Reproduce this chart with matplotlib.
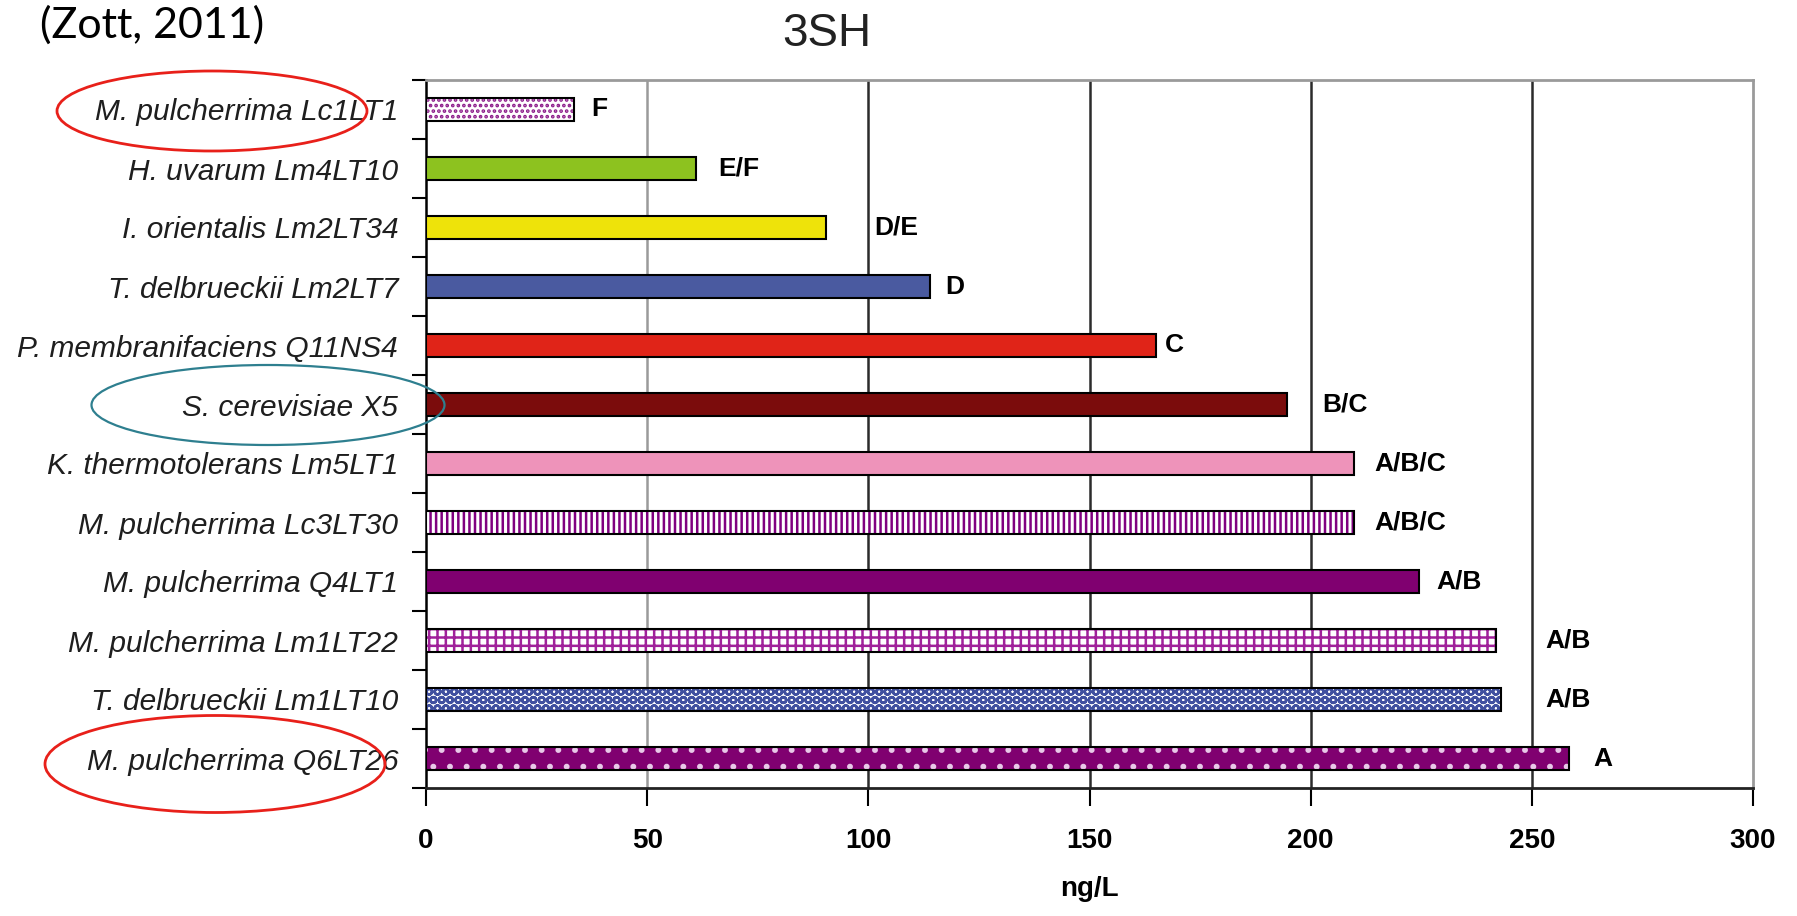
import matplotlib
matplotlib.use("Agg")
import matplotlib.pyplot as plt
from matplotlib.patches import Ellipse
import numpy as np

plt.rcParams['hatch.linewidth'] = 1.8

# ---- data (top to bottom) ----
strains = ["M. pulcherrima Lc1LT1", "H. uvarum Lm4LT10", "I. orientalis Lm2LT34",
           "T. delbrueckii Lm2LT7", "P. membranifaciens Q11NS4", "S. cerevisiae X5",
           "K. thermotolerans Lm5LT1", "M. pulcherrima Lc3LT30", "M. pulcherrima Q4LT1",
           "M. pulcherrima Lm1LT22", "T. delbrueckii Lm1LT10", "M. pulcherrima Q6LT26"]
values = [33.4, 61.1, 90.4, 114.0, 165.0, 194.6, 209.8, 209.8, 224.4, 242.0, 243.0, 258.5]
groups = ["F", "E/F", "D/E", "D", "C", "B/C", "A/B/C", "A/B/C", "A/B", "A/B", "A/B", "A"]
xticks = [0, 50, 100, 150, 200, 250, 300]

# styles
faces = ["white", "#8DC21F", "#EEE30A", "#4A5AA0", "#E02418", "#7B0C0C",
         "#EE93BA", "white", "#800070", "white", "white", "#800070"]
hatches = ["...", None, None, None, None, None, None, "|||", None, "++", "OO", "."]
hatch_cols = ["#8B1A89", None, None, None, None, None, None, "#800080", None, "#A0209A", "#4050A0", "#E8C8E8"]
label_pad = [4, 5, 11, 3.5, 2, 8, 4.5, 4.5, 4, 11, 10, 5.5]

fig = plt.figure(figsize=(17.97, 9.16), dpi=100)
ax = fig.add_axes([426/1797, 1-788/916, (1753-426)/1797, (788-80)/916])

y = np.arange(len(strains))
h = 0.40
for i in range(len(strains)):
    if hatches[i] is None:
        ax.barh(y[i], values[i], height=h, color=faces[i], edgecolor="black", linewidth=1.5, zorder=3)
    else:
        ax.barh(y[i], values[i], height=h, color=faces[i], hatch=hatches[i],
                edgecolor=hatch_cols[i], linewidth=0, zorder=3)
        ax.barh(y[i], values[i], height=h, fill=False, edgecolor="black", linewidth=1.5, zorder=4)
    ax.text(values[i] + label_pad[i], y[i], groups[i], fontsize=19, fontweight="bold",
            va="center", ha="left", family="Liberation Sans", color="black")

ax.set_ylim(len(strains) - 0.5, -0.5)
ax.set_xlim(0, 300)

# grid lines
for xv in xticks[1:-1]:
    col = "#9a9a9a" if xv == 50 else "#2b2b2b"
    ax.axvline(xv, color=col, linewidth=1.8, zorder=1)

ax.set_xticks(xticks)
ax.set_xticklabels([str(v) for v in xticks], fontsize=20, fontweight="bold", family="Liberation Sans")
ax.tick_params(axis="x", length=13, width=1.5, pad=16, color="black")

ax.set_yticks(y)
ax.set_yticklabels(strains, fontsize=21.5, fontstyle="italic", family="Liberation Sans", color="#1e1e1e")
ax.tick_params(axis="y", which="major", length=0, pad=20)
ax.set_yticks(np.arange(-0.5, len(strains), 1.0), minor=True)
ax.tick_params(axis="y", which="minor", length=10, width=1.5, color="black")

ax.spines["left"].set_color("black")
ax.spines["left"].set_linewidth(1.8)
ax.spines["bottom"].set_color("#222222")
ax.spines["bottom"].set_linewidth(2.0)
ax.spines["top"].set_color("#9a9a9a")
ax.spines["top"].set_linewidth(2.0)
ax.spines["right"].set_color("#9a9a9a")
ax.spines["right"].set_linewidth(2.0)

ax.set_xlabel("ng/L", fontsize=20, fontweight="bold", family="Liberation Sans", labelpad=16)

fig.text(827/1797, 1-34/916, "3SH", fontsize=33, family="Liberation Sans",
         ha="center", va="center", color="#222222")
fig.text(40/1797, 1-25/916, "(Zott, 2011)", fontsize=31, family="Lato",
         ha="left", va="center", color="black")

# highlight ellipses (figure pixel coords)
def fig_ellipse(cx, cy, w, hgt, color, lw):
    e = Ellipse((cx/1797, 1-cy/916), w/1797, hgt/916, transform=fig.transFigure,
                fill=False, edgecolor=color, linewidth=lw, zorder=10)
    fig.patches.append(e)

fig_ellipse(212, 111, 310, 80, "#E8201A", 2.0)
fig_ellipse(268, 405, 353, 80, "#2E7F8F", 1.6)
fig_ellipse(215, 764, 340, 97, "#E8201A", 2.0)

fig.savefig("out.png", dpi=100)
